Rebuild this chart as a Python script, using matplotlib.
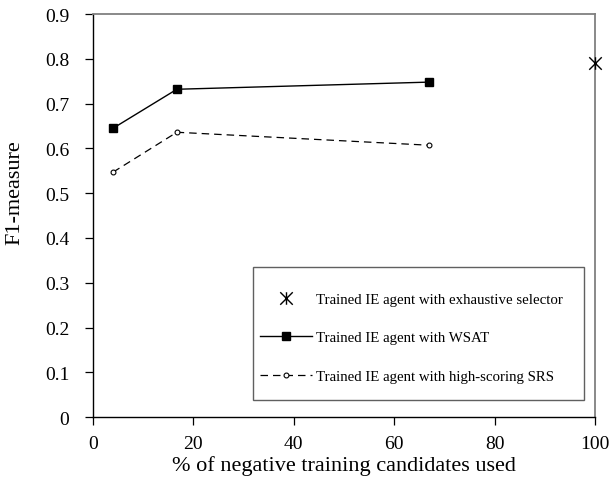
import matplotlib.pyplot as plt
from matplotlib.patches import Rectangle
from matplotlib.path import Path

# data
pct_wsat = [4, 16.7, 67]
f1_wsat = [0.645, 0.732, 0.748]
pct_srs = [4, 16.7, 67]
f1_srs = [0.547, 0.636, 0.607]
pct_exh = [100]
f1_exh = [0.79]

x_ticks = [0, 20, 40, 60, 80, 100]
y_ticks = [0, 0.1, 0.2, 0.3, 0.4, 0.5, 0.6, 0.7, 0.8, 0.9]

plt.rcParams['font.family'] = ['Liberation Serif', 'DejaVu Serif']

# X with a vertical bar through it
star = Path([(-1, -1), (1, 1), (-1, 1), (1, -1), (0, -1), (0, 1)],
            [Path.MOVETO, Path.LINETO] * 3)

fig = plt.figure(figsize=(6.1, 4.85), dpi=100)
ax = fig.add_axes([0.1525, 0.138, 0.823, 0.831])

ax.plot(pct_exh, f1_exh, linestyle='none', marker=star, markersize=9,
        color='black', mew=1.0, clip_on=False, zorder=5,
        label='Trained IE agent with exhaustive selector')
ax.plot(pct_wsat, f1_wsat, '-', color='black', lw=1.0, marker='s',
        markersize=6, label='Trained IE agent with WSAT')
ax.plot(pct_srs, f1_srs, '--', color='black', lw=0.9, dashes=(6, 4),
        marker='o', markersize=3.5, markerfacecolor='white', mew=0.8,
        label='Trained IE agent with high-scoring SRS')

ax.set_xlim(0, 100)
ax.set_ylim(0, 0.9)
ax.set_xticks(x_ticks)
ax.set_yticks(y_ticks)
ax.set_xticklabels([str(v) for v in x_ticks])
ax.set_yticklabels(['0'] + ['%.1f' % v for v in y_ticks[1:]])
ax.tick_params(direction='out', length=6, width=0.9, labelsize=14, pad=7)
ax.tick_params(axis='y', pad=11)

for side in ['left', 'bottom']:
    ax.spines[side].set_color('black')
    ax.spines[side].set_linewidth(1.0)
for side in ['top', 'right']:
    ax.spines[side].set_color('#808080')
    ax.spines[side].set_linewidth(1.3)

ax.set_xlabel('% of negative training candidates used', fontsize=16, labelpad=2)
ax.set_ylabel('F1-measure', fontsize=16)
ax.yaxis.set_label_coords(-0.136, 0.56)

# legend frame drawn separately so padding can differ top/side
ax.add_patch(Rectangle((0.318, 0.042), 0.66, 0.33, transform=ax.transAxes,
                       facecolor='white', edgecolor='#606060', lw=1.0, zorder=3))
leg = ax.legend(loc='center left', bbox_to_anchor=(0.332, 0.197), fontsize=10.7,
                frameon=False, borderpad=0, labelspacing=1.7, handlelength=3.5,
                handletextpad=0.3, borderaxespad=0)
leg.set_zorder(4)

fig.savefig('out.png', dpi=100)
